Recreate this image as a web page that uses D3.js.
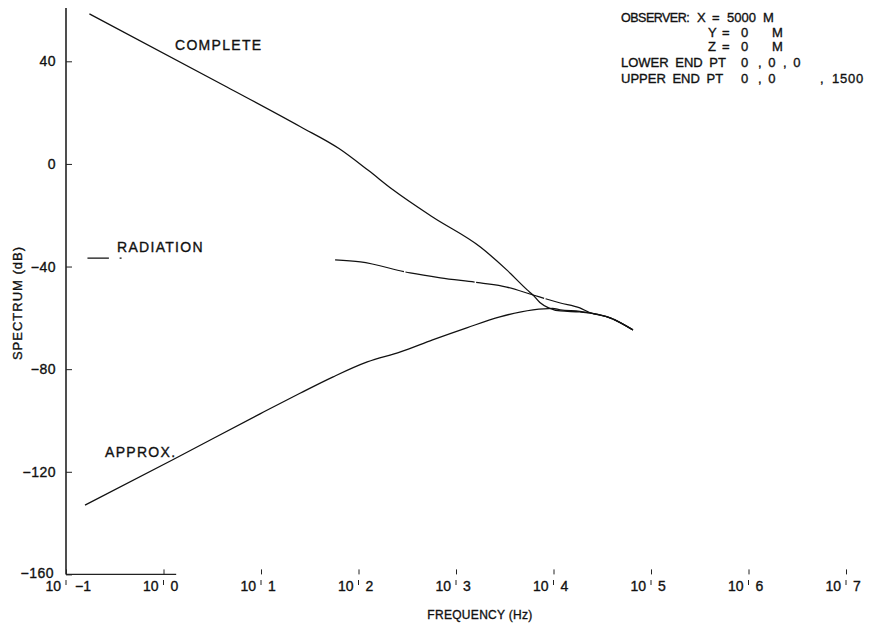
<!DOCTYPE html>
<html>
<head>
<meta charset="utf-8">
<script src="https://d3js.org/d3.v7.min.js"></script>
<style>
  body { margin: 0; background: #fff; }
  svg text { font-family: "Liberation Sans", Arial, Helvetica, sans-serif; fill: #111; stroke: #111; stroke-width: 0.35px; white-space: pre; }
  .curve { fill: none; stroke: #111; stroke-width: 1.3; stroke-linejoin: round; }
  .curve.radiation { stroke-width: 1.2; stroke-dasharray: 70 1.5; }
  .axis line, .axis path { stroke: #222; }
</style>
</head>
<body>
<svg id="vis" width="871" height="630"></svg>
<script>
// frequency as log10(Hz), spectrum in dB
const completeLogF = [-0.76, 0.65, 1.40, 1.80, 2.10, 2.35, 2.76, 3.25, 3.52, 3.73, 3.79, 3.86, 3.95, 4.07, 4.27, 4.37, 4.58, 4.815];
const completeDb   = [58.5, 30.0, 14.6, 6.0, -2.5, -10.0, -20.7, -32.4, -41.3, -49.1, -51.1, -54.0, -56.1, -57.3, -57.7, -58.1, -60.0, -64.7];

// null breaks the line (radiation is drawn in pieces)
const radiationLogF = [-0.78, -0.56, -0.5, -0.45, -0.43, -0.4, 1.76, 2.02, 2.53, 2.84, 3.25, 3.52, 3.79, 4.07, 4.27, 4.37, 4.58, 4.815];
const radiationDb   = [-36.7, -36.7, null, -36.7, -36.7, null, -37.4, -38.2, -42.5, -44.4, -46.4, -48.0, -51.1, -54.2, -56.1, -57.9, -60.0, -64.7];

const approxLogF = [-0.805, 0.10, 0.99, 1.40, 1.74, 2.09, 2.43, 2.76, 3.11, 3.45, 3.79, 3.99, 4.07, 4.27, 4.37, 4.58, 4.815];
const approxDb   = [-133.0, -115.2, -97.4, -89.4, -83.0, -77.2, -73.3, -68.6, -63.9, -59.6, -56.9, -56.3, -56.9, -57.5, -58.1, -60.0, -64.7];

const yTicks = [40, 0, -40, -80, -120, -160];
const xDecades = [-1, 0, 1, 2, 3, 4, 5, 6, 7];
const xExponents = ["-1", "0", "1", "2", "3", "4", "5", "6", "7"];

const curveNames = ["COMPLETE", "RADIATION", "APPROX."];

function createChart() {
  const svg = d3.select("svg#vis");

  const x = d3.scaleLinear().domain([-1, 7]).range([66, 846]);
  const y = d3.scaleLinear().domain([-160, 60]).range([574.4, 10]);

  // y axis: vertical rule, short inward ticks
  svg.append("line")
    .attr("x1", x(-1)).attr("x2", x(-1))
    .attr("y1", y(-160)).attr("y2", 8)
    .attr("stroke", "#222").attr("stroke-width", 1.6);

  const yAxis = d3.axisLeft(y)
    .tickValues(yTicks)
    .tickSize(-6)
    .tickPadding(10)
    .tickFormat(d => d3.format("d")(d).replace("-", "\u2212"));

  const gy = svg.append("g")
    .attr("class", "axis")
    .attr("transform", translate(x(-1), 0))
    .call(yAxis);
  gy.select(".domain").remove();
  gy.selectAll("text")
    .style("font-size", "14px")
    .style("letter-spacing", "0.5px")
    .attr("fill", "#111");
  // lowest label sits a little lower and further left
  gy.selectAll("text").filter(d => d === -160)
    .attr("x", -12)
    .attr("dy", "0.2em");

  // x axis: rule only across the first decade, ticks at each decade
  svg.append("line")
    .attr("x1", x(-1)).attr("x2", x(0.13))
    .attr("y1", y(-160)).attr("y2", y(-160))
    .attr("stroke", "#222").attr("stroke-width", 1.2);

  const xAxis = d3.axisBottom(x)
    .tickValues(xDecades)
    .tickSize(-5)
    .tickFormat("");

  const gx = svg.append("g")
    .attr("class", "axis")
    .attr("transform", translate(0, y(-160)))
    .call(xAxis);
  gx.select(".domain").remove();

  const labels = svg.append("g").selectAll("g.xlab")
    .data(xDecades)
    .enter()
    .append("g")
    .attr("class", "xlab")
    .attr("transform", d => translate(x(d), 591));

  labels.append("text")
    .attr("x", -5)
    .attr("text-anchor", "end")
    .style("font-size", "14px")
    .text("10");
  labels.append("line")
    .attr("x1", 0).attr("x2", 0)
    .attr("y1", -11).attr("y2", -6)
    .attr("stroke", "#222");
  labels.append("text")
    .attr("x", (d, i) => i === 0 ? 9 : 7)
    .style("font-size", "14px")
    .text((d, i) => xExponents[i].replace("-", "\u2212"));

  svg.append("text")
    .attr("x", 480).attr("y", 619)
    .attr("text-anchor", "middle")
    .style("font-size", "12px")
    .style("letter-spacing", "0.3px")
    .text("FREQUENCY (Hz)");

  svg.append("text")
    .attr("transform", translate(22, 303) + " rotate(-90)")
    .attr("text-anchor", "middle")
    .style("font-size", "13px")
    .style("letter-spacing", "1px")
    .text("SPECTRUM (dB)");

  // curves
  const line = d3.line()
    .defined(d => d[1] !== null)
    .x(d => x(d[0]))
    .y(d => y(d[1]))
    .curve(d3.curveMonotoneX);

  const series = [
    d3.zip(completeLogF, completeDb),
    d3.zip(radiationLogF, radiationDb),
    d3.zip(approxLogF, approxDb)
  ];

  svg.append("g").selectAll("path.curve")
    .data(series)
    .enter()
    .append("path")
    .attr("class", (d, i) => i === 1 ? "curve radiation" : "curve")
    .attr("d", line);

  // curve names
  const namePos = [[175, 50], [117, 252], [105, 457]];
  svg.append("g").selectAll("text.name")
    .data(curveNames)
    .enter()
    .append("text")
    .attr("class", "name")
    .attr("x", (d, i) => namePos[i][0])
    .attr("y", (d, i) => namePos[i][1])
    .style("font-size", "14px")
    .style("letter-spacing", "1.3px")
    .text(d => d);

  // observer block
  const note = svg.append("g")
    .style("font-size", "13px")
    .style("word-spacing", "3px");
  addText(note, 621, 22, "OBSERVER:")
    .style("font-size", "12.5px")
    .style("letter-spacing", "-0.5px");
  addText(note, 697, 22, "X");
  addText(note, 712, 22, "=");
  addText(note, 727, 22, "5000");
  addText(note, 763, 22, "M");
  addText(note, 708, 37, "Y");
  addText(note, 722, 37, "=");
  addText(note, 741, 37, "0");
  addText(note, 772, 37, "M");
  addText(note, 708, 51, "Z");
  addText(note, 722, 51, "=");
  addText(note, 741, 51, "0");
  addText(note, 772, 51, "M");
  addText(note, 621, 67, "LOWER END PT");
  addText(note, 741, 67, "0");
  addText(note, 758, 67, ", 0");
  addText(note, 783, 67, ", 0");
  addText(note, 621, 83, "UPPER END PT");
  addText(note, 741, 83, "0");
  addText(note, 758, 83, ", 0");
  addText(note, 820, 83, ",");
  addText(note, 832, 83, "1500").style("letter-spacing", "0.8px");
}

function addText(g, x, y, s) {
  return g.append("text").attr("x", x).attr("y", y).text(s);
}

function translate(x, y) {
  return "translate(" + String(x) + "," + String(y) + ")";
}

createChart();
</script>
</body>
</html>
